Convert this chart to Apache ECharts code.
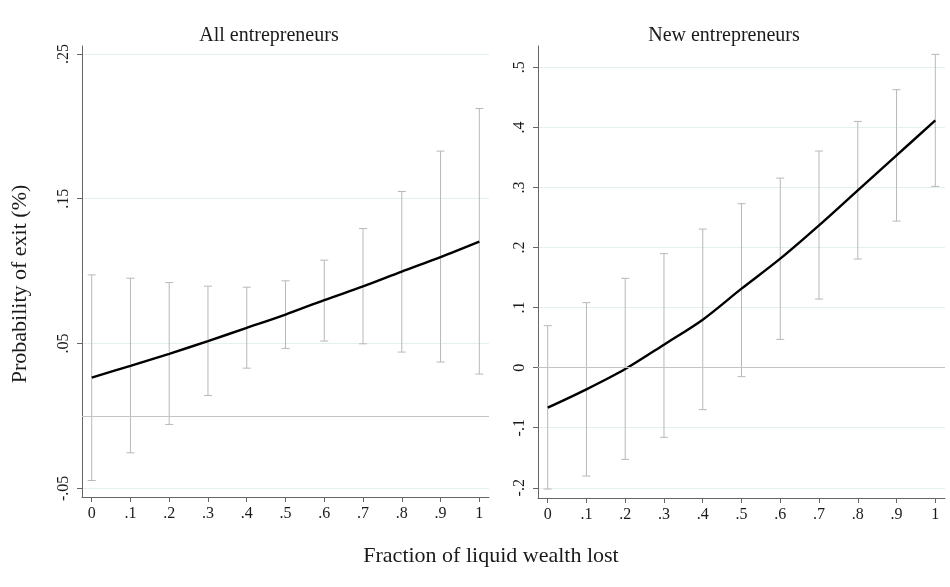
<!DOCTYPE html>
<html>
<head>
<meta charset="utf-8">
<script src="https://cdn.jsdelivr.net/npm/echarts@6/dist/echarts.min.js"></script>
<style>
  html, body { margin: 0; padding: 0; background: #fff; }
  #chart { width: 950px; height: 587px; }
</style>
</head>
<body>
<div id="chart"></div>
<script>
// Fraction of liquid wealth lost (x positions)
const fractions = [0, 0.1, 0.2, 0.3, 0.4, 0.5, 0.6, 0.7, 0.8, 0.9, 1];
const xTickValues = [0, 0.1, 0.2, 0.3, 0.4, 0.5, 0.6, 0.7, 0.8, 0.9, 1];

// All entrepreneurs: predicted probability of exit and 95% interval
const allPred  = [0.0265, 0.0346, 0.0429, 0.0517, 0.0608, 0.0700, 0.0800, 0.0894, 0.0997, 0.1097, 0.1204];
const allUpper = [0.0974, 0.0951, 0.0921, 0.0896, 0.0889, 0.0933, 0.1076, 0.1294, 0.1550, 0.1829, 0.2123];
const allLower = [-0.0446, -0.0255, -0.0059, 0.0141, 0.0330, 0.0466, 0.0517, 0.0498, 0.0441, 0.0372, 0.0289];
const allYTicks = [-0.05, 0.05, 0.15, 0.25];

// New entrepreneurs: predicted probability of exit and 95% interval
const newPred  = [-0.0666, -0.0361, -0.0023, 0.0383, 0.0799, 0.1315, 0.1815, 0.2369, 0.2952, 0.3534, 0.4116];
const newUpper = [0.0699, 0.1082, 0.1487, 0.1898, 0.2307, 0.2730, 0.3156, 0.3606, 0.4100, 0.4628, 0.5216];
const newLower = [-0.2021, -0.1805, -0.1527, -0.1160, -0.0699, -0.0150, 0.0471, 0.1142, 0.1808, 0.2440, 0.3018];
const newYTicks = [-0.2, -0.1, 0, 0.1, 0.2, 0.3, 0.4, 0.5];

const FONT = 'Liberation Serif';
const TEXT = '#1a1a1a';

// Stata-style numbers: drop the leading zero (.25, -.05)
function fmt(v) {
  const r = Math.round(v * 1000) / 1000;
  if (r === 0) return '0';
  let s = String(r);
  return s.replace(/^0\./, '.').replace(/^-0\./, '-.');
}

function xAxisFor(gridIndex) {
  return {
    type: 'value', gridIndex: gridIndex, min: -0.025, max: 1.025,
    axisLine: { show: true, onZero: false, lineStyle: { color: '#666', width: 1 } },
    axisTick: { show: true, length: 5, customValues: xTickValues, lineStyle: { color: '#666' } },
    axisLabel: { customValues: xTickValues, formatter: fmt, color: TEXT, fontFamily: FONT, fontSize: 16, margin: 9 },
    splitLine: { show: false }
  };
}

function yAxisFor(gridIndex, min, max, ticks) {
  return {
    type: 'value', gridIndex: gridIndex, min: min, max: max,
    axisLine: { show: true, onZero: false, lineStyle: { color: '#666', width: 1 } },
    axisTick: { show: true, length: 5, customValues: ticks, lineStyle: { color: '#666' } },
    axisLabel: { customValues: ticks, formatter: fmt, rotate: 90, color: TEXT, fontFamily: FONT, fontSize: 16, margin: 10 },
    splitLine: { show: true, customValues: ticks, lineStyle: { color: '#e6eff0', width: 1 } }
  };
}

function errorBars(xIdx, lower, upper) {
  return {
    type: 'custom', xAxisIndex: xIdx, yAxisIndex: xIdx, silent: true, z: 2,
    data: fractions.map((f, i) => [f, lower[i], upper[i]]),
    renderItem: function (params, api) {
      const x = api.value(0);
      const lo = api.coord([x, api.value(1)]);
      const hi = api.coord([x, api.value(2)]);
      const cap = 4;
      const style = { stroke: '#b8b8b8', lineWidth: 1 };
      return {
        type: 'group',
        children: [
          { type: 'line', shape: { x1: lo[0], y1: lo[1], x2: hi[0], y2: hi[1] }, style: style },
          { type: 'line', shape: { x1: hi[0] - cap, y1: hi[1], x2: hi[0] + cap, y2: hi[1] }, style: style },
          { type: 'line', shape: { x1: lo[0] - cap, y1: lo[1], x2: lo[0] + cap, y2: lo[1] }, style: style }
        ]
      };
    }
  };
}

function predLine(xIdx, values) {
  return {
    type: 'line', xAxisIndex: xIdx, yAxisIndex: xIdx, z: 3,
    data: fractions.map((f, i) => [f, values[i]]),
    smooth: 0.3, showSymbol: false, silent: true,
    lineStyle: { color: '#000', width: 2.4 },
    markLine: {
      silent: true, symbol: 'none', label: { show: false },
      lineStyle: { color: '#c4c4c4', width: 1, type: 'solid' },
      data: [{ yAxis: 0 }]
    }
  };
}

const chart = echarts.init(document.getElementById('chart'), null, { renderer: 'canvas' });
chart.setOption({
  animation: false,
  backgroundColor: '#fff',
  textStyle: { fontFamily: FONT },
  title: [
    { text: 'All entrepreneurs', left: 264, top: 21, textAlign: 'center',
      textStyle: { fontFamily: FONT, fontSize: 20, fontWeight: 'normal', color: TEXT } },
    { text: 'New entrepreneurs', left: 719, top: 21, textAlign: 'center',
      textStyle: { fontFamily: FONT, fontSize: 20, fontWeight: 'normal', color: TEXT } }
  ],
  graphic: [
    { type: 'text', x: 491, y: 545,
      style: { text: 'Fraction of liquid wealth lost', fontFamily: FONT, fontSize: 22, fill: TEXT,
               textAlign: 'center', textVerticalAlign: 'top' } },
    { type: 'text', x: 9, y: 284, rotation: Math.PI / 2,
      style: { text: 'Probability of exit (%)', fontFamily: FONT, fontSize: 22, fill: TEXT,
               textAlign: 'center', textVerticalAlign: 'top' } }
  ],
  grid: [
    { left: 82, right: 461, top: 46, bottom: 90 },
    { left: 538, right: 5, top: 46, bottom: 89 }
  ],
  xAxis: [xAxisFor(0), xAxisFor(1)],
  yAxis: [
    yAxisFor(0, -0.056, 0.2555, allYTicks),
    yAxisFor(1, -0.217, 0.5355, newYTicks)
  ],
  series: [
    errorBars(0, allLower, allUpper),
    predLine(0, allPred),
    errorBars(1, newLower, newUpper),
    predLine(1, newPred)
  ]
});
</script>
</body>
</html>
